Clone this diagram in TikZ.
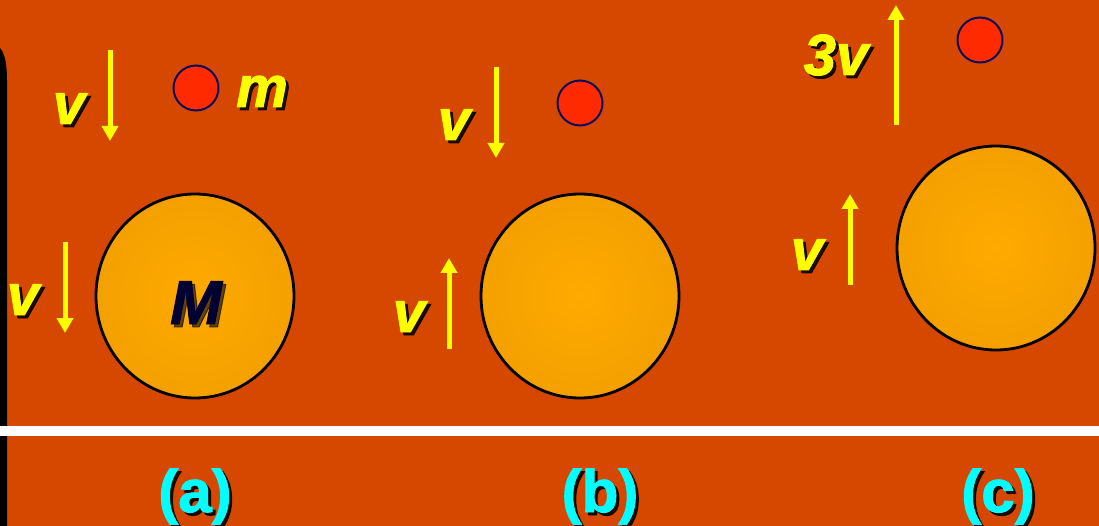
\documentclass[tikz,border=0pt]{standalone}
\usepackage{fontspec}
\setmainfont{Liberation Sans}
\newfontfamily\heavyfont[FakeBold=1.6]{Liberation Sans}
\usetikzlibrary{arrows.meta,shapes.geometric}
\definecolor{bg}{RGB}{214,72,0}
\definecolor{ballin}{RGB}{255,170,0}
\definecolor{ballout}{RGB}{233,150,0}
\definecolor{smallred}{RGB}{255,42,0}
\definecolor{smalledge}{RGB}{12,12,90}
\definecolor{navy}{RGB}{0,0,50}
\definecolor{arrowyellow}{RGB}{255,255,0}
\definecolor{capcyan}{RGB}{0,255,255}
\pgfdeclareradialshading{ballshade}{\pgfpoint{0bp}{0bp}}{color(0bp)=(ballin); color(50bp)=(ballout); color(100bp)=(ballout)}
\tikzset{
  vel/.style={draw=arrowyellow, line width=5pt, -{Triangle[length=15pt,width=16pt]}},
  lab/.style={font=\fontsize{58}{58}\selectfont\heavyfont\bfseries\itshape, text=arrowyellow, anchor=base, inner sep=0pt},
  shad/.style={font=\fontsize{58}{58}\selectfont\heavyfont\bfseries\itshape, text=black, anchor=base, inner sep=0pt, opacity=0.85},
  bigM/.style={font=\fontsize{62}{62}\selectfont\heavyfont\bfseries\itshape, text=navy, anchor=base, inner sep=0pt},
  bigMs/.style={font=\fontsize{62}{62}\selectfont\heavyfont\bfseries\itshape, text=black, anchor=base, inner sep=0pt, opacity=0.6},
  caplabel/.style={font=\fontsize{60}{60}\selectfont\heavyfont\bfseries, text=capcyan, anchor=base, inner sep=0pt},
  capshadow/.style={font=\fontsize{60}{60}\selectfont\heavyfont\bfseries, text=black, anchor=base, inner sep=0pt, opacity=0.85},
  smallball/.style={circle, draw=smalledge, fill=smallred, line width=2pt, minimum size=45pt, inner sep=0pt},
  bigball/.style={ellipse, draw=black, line width=2.8pt, shading=ballshade, minimum width=198pt, minimum height=204pt, inner sep=0pt},
}
\begin{document}
\begin{tikzpicture}[x=1pt,y=-1pt]
\fill[bg] (0,0) rectangle (1099,526);
\useasboundingbox (0,0) rectangle (1099,526);
% left black band
\fill[black] (0,526) -- (0,48) .. controls (5,54) and (7,64) .. (7,80) -- (7,526) -- cycle;
% white separator
\fill[white] (0,426) rectangle (1099,436);

% ---------- (a) ----------
\node[smallball] (ma) at (196,88) {};
\node[bigball] (Ma) at (195,296) {};
\coordinate (a1s) at (110,50); \coordinate (a1e) at (110,141);
\draw[vel] (a1s) -- (a1e);
\coordinate (a2s) at (65,242); \coordinate (a2e) at (65,333);
\draw[vel] (a2s) -- (a2e);
\node[shad] (va1s) at (72,127) {v};
\node[lab] (va1) at (69,124) {v};
\node[shad] (va2s) at (26,318) {v};
\node[lab] (va2) at (23,315) {v};
\node[shad] (mlabs) at (265,110) {m};
\node[lab] (mlab) at (262,107) {m};
\node[bigMs] (Mlabs) at (199,327) {M};
\node[bigM] (Mlab) at (196,324) {M};

% ---------- (b) ----------
\node[smallball] (mb) at (580,103) {};
\node[bigball] (Mb) at (580,296) {};
\coordinate (b1s) at (496,67); \coordinate (b1e) at (496,158);
\draw[vel] (b1s) -- (b1e);
\coordinate (b2s) at (449,349); \coordinate (b2e) at (449,258);
\draw[vel] (b2s) -- (b2e);
\node[shad] (vb1s) at (457,143) {v};
\node[lab] (vb1) at (454,140) {v};
\node[shad] (vb2s) at (412,335) {v};
\node[lab] (vb2) at (409,332) {v};

% ---------- (c) ----------
\node[smallball] (mc) at (980,40) {};
\node[bigball] (Mc) at (996,248) {};
\coordinate (c1s) at (896,125); \coordinate (c1e) at (896,5);
\draw[vel] (c1s) -- (c1e);
\coordinate (c2s) at (850,285); \coordinate (c2e) at (850,194);
\draw[vel] (c2s) -- (c2e);
\node[shad] (vc0s) at (839,78) {3v};
\node[lab] (vc0) at (836,75) {3v};
\node[shad] (vc2s) at (810,273) {v};
\node[lab] (vc2) at (807,270) {v};

% ---------- captions ----------
\node[capshadow] (capas) at (198,515) {(a)};
\node[caplabel] (capa) at (195,512) {(a)};
\node[capshadow] (capbs) at (603,515) {(b)};
\node[caplabel] (capb) at (600,512) {(b)};
\node[capshadow] (capcs) at (1001,515) {(c)};
\node[caplabel] (capc) at (998,512) {(c)};
\end{tikzpicture}
\end{document}
